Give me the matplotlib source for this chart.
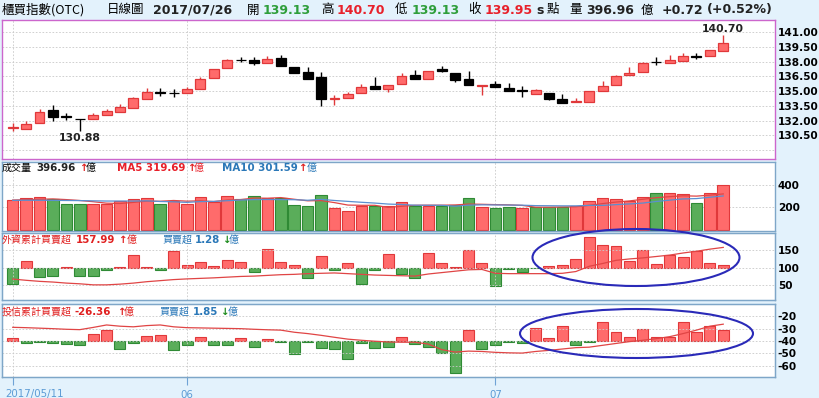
import matplotlib
matplotlib.use("Agg")
import matplotlib.pyplot as plt
from matplotlib.patches import Ellipse
import matplotlib.transforms as mtransforms

# ---- data ----
opens = [131.25, 131.17, 131.78, 133.07, 132.42, 132.18, 132.19, 132.53, 132.87, 133.31,
         134.23, 134.86, 134.80, 134.78, 135.25, 136.31, 137.36, 138.22, 138.18, 137.90,
         138.38, 137.50, 136.95, 136.41, 134.20, 134.30, 134.78, 135.52, 135.25, 135.73,
         136.65, 136.27, 137.22, 136.82, 136.20, 135.57, 135.73, 135.32, 135.07, 134.71,
         134.84, 134.23, 133.86, 133.93, 134.98, 135.59, 136.61, 136.95, 137.97, 137.84,
         138.11, 138.57, 138.59, 139.13]
highs = [131.70, 131.99, 133.21, 133.55, 132.80, 132.20, 132.80, 133.21, 133.69, 134.35,
         135.32, 135.32, 135.25, 135.39, 136.48, 137.30, 138.31, 138.52, 138.52, 138.59,
         138.72, 137.50, 137.43, 136.95, 134.57, 134.91, 135.73, 136.41, 135.60, 136.82,
         137.16, 137.02, 137.56, 136.82, 137.09, 135.62, 136.07, 135.86, 135.52, 135.25,
         134.84, 134.71, 134.30, 135.05, 136.00, 136.60, 137.43, 137.95, 138.52, 138.65,
         138.93, 138.86, 139.20, 140.70]
lows = [130.96, 131.17, 131.78, 131.92, 132.05, 130.88, 132.19, 132.53, 132.87, 133.31,
        134.23, 134.50, 134.37, 134.78, 135.25, 136.31, 137.36, 137.97, 137.63, 137.90,
        137.56, 136.82, 136.27, 133.48, 133.62, 134.30, 134.78, 135.25, 134.88, 135.73,
        136.20, 136.27, 136.95, 135.93, 135.66, 134.64, 135.39, 135.05, 134.44, 134.71,
        134.10, 133.82, 133.86, 133.93, 134.98, 135.59, 136.61, 136.95, 137.70, 137.84,
        138.11, 138.25, 138.59, 139.13]
closes = [131.30, 131.65, 132.87, 132.33, 132.38, 132.14, 132.53, 132.94, 133.35, 134.27,
          134.91, 134.82, 134.76, 135.18, 136.24, 137.29, 138.18, 138.15, 137.90, 138.31,
          137.56, 136.88, 136.27, 134.16, 134.25, 134.71, 135.39, 135.25, 135.59, 136.54,
          136.20, 137.02, 137.02, 136.14, 135.66, 135.60, 135.39, 135.05, 135.03, 135.12,
          134.16, 133.82, 133.96, 135.05, 135.52, 136.54, 136.88, 137.90, 137.93, 138.18,
          138.59, 138.53, 139.20, 139.95]

volume = [265, 286, 292, 274, 227, 227, 232, 227, 259, 274, 283, 229, 259, 229, 292, 247,
          298, 277, 301, 280, 280, 220, 211, 310, 191, 169, 211, 211, 211, 244, 214, 214,
          214, 220, 283, 206, 197, 206, 191, 206, 206, 206, 214, 259, 280, 277, 256, 289,
          330, 325, 316, 242, 330, 396.96]
volume_up = [1, 1, 1, 0, 0, 0, 1, 1, 1, 1, 1, 0, 1, 1, 1, 1, 1, 0, 0, 1, 0, 0, 0, 0, 1, 1,
             1, 0, 1, 1, 0, 1, 0, 0, 0, 1, 0, 0, 1, 0, 0, 0, 1, 1, 1, 1, 1, 1, 0, 1, 1, 0,
             1, 1]
ma5 = [265, 268, 272, 275, 269, 261, 250, 237, 234, 244, 255, 254, 261, 255, 258, 251, 265,
       269, 283, 281, 287, 272, 258, 260, 242, 220, 218, 218, 199, 209, 218, 219, 219, 221,
       229, 227, 224, 222, 217, 201, 201, 203, 205, 218, 233, 247, 257, 272, 286, 295, 303,
       300, 309, 319.69]
ma10 = [262, 263, 263, 262, 261, 260, 258, 256, 256, 256, 258, 252, 249, 244, 251, 253, 259,
        265, 269, 270, 269, 268, 263, 271, 261, 253, 245, 238, 229, 225, 219, 218, 218, 210,
        219, 222, 221, 220, 219, 215, 214, 213, 213, 217, 217, 224, 230, 238, 252, 264, 275,
        278, 290, 301.59]

foreign_daily = [-7.9, 3.2, -4.4, -4.1, 0.2, -3.8, -4.1, -1.3, 0.5, 6.0, 0.3, -1.3, 7.9, 1.3,
                 2.5, 1.0, 3.5, 2.5, -1.9, 9.2, 2.5, 1.3, -5.1, 5.4, -1.3, 2.2, -7.6, -1.3,
                 6.7, -3.2, -4.8, 7.0, 2.2, 0.3, 8.3, 2.2, -8.6, -0.6, -2.2, -0.3, 0.8, 1.1,
                 4.0, 14.8, 11.1, 10.2, 3.2, 8.7, 1.6, 6.3, 5.1, 7.9, 2.2, 1.28]
foreign_cum = [67.6, 64, 61, 59, 56, 54, 51, 51, 53, 56, 60, 63, 66, 68, 69.5, 71, 73, 75, 76,
               78, 80, 81, 83, 84, 85, 83, 81, 79, 78, 77, 76, 82, 86, 90, 94, 95, 84, 83,
               83, 83, 83, 84, 89, 104, 112, 121, 125, 128, 132, 136, 142, 147, 153, 157.99]

trust_daily = [0.5, -0.3, -0.2, -0.3, -0.5, -0.7, 1.2, 1.9, -1.4, -0.4, 0.85, 1.0, -1.6, -0.7,
               0.6, -0.6, -0.7, 0.45, -1.1, 0.35, -0.2, -2.2, -0.1, -1.2, -1.3, -3.0, -0.3,
               -1.2, -1.1, 0.7, -0.5, -1.0, -2.1, -5.5, 1.9, -1.4, -0.7, -0.2, -0.4, 2.2, 0.5,
               2.5, -0.7, -0.15, 3.2, 1.5, 0.6, 2.1, 0.6, 0.7, 3.3, 1.6, 2.6, 1.85]
trust_cum = [-28.9, -29.2, -29.6, -30, -30.5, -30.8, -29, -27, -28, -28.5, -27.5, -27, -28.5,
             -29.2, -29.4, -29.6, -29.8, -30, -30.5, -30.9, -31.2, -32.9, -34, -35.4, -37,
             -38.5, -39.4, -40.2, -40.8, -41, -41, -42.5, -47, -49, -48.2, -48.5, -49.2,
             -49.6, -49.8, -48.5, -47.6, -46.5, -45.4, -45, -43.5, -42, -40.5, -39.4, -38.1,
             -36.5, -34, -31.2, -28, -26.36]

month_ticks = [0, 13, 36]
month_labels = ["2017/05/11", "06", "07"]
price_ticks = [129.0, 130.5, 132.0, 133.5, 135.0, 136.5, 138.0, 139.5, 141.0]
volume_ticks = [200, 400]
foreign_ticks = [50, 100, 150]
trust_ticks = [-20, -30, -40, -50, -60]

# ---- styling ----
BG = "#e3f2fc"
RED_FILL, RED_EDGE = "#ff6b6b", "#e0383a"
GRN_FILL, GRN_EDGE = "#5aad5a", "#2f8a35"
BLUE_TXT = "#2b78b8"
CJK = ["Noto Sans CJK TC", "DejaVu Sans"]
W, H = 820, 398
days = list(range(len(closes)))
XLIM = (-0.8, 56.86)

fig = plt.figure(figsize=(W / 100, H / 100), dpi=100, facecolor=BG)


def box(x0, y0, x1, y1):
    return [x0 / W, 1 - y1 / H, (x1 - x0) / W, (y1 - y0) / H]


def put(x, y, s, **kw):
    kw.setdefault("ha", "left")
    kw.setdefault("va", "center")
    fig.text(x / W, 1 - y / H, s, **kw)


def style_panel(ax, edge, ticks, labels):
    ax.set_xlim(*XLIM)
    ax.set_facecolor("white")
    for s in ax.spines.values():
        s.set_color(edge)
        s.set_linewidth(1.0)
    ax.yaxis.tick_right()
    ax.set_yticks(ticks)
    ax.set_yticklabels(labels)
    ax.tick_params(axis="y", length=0, pad=2, labelsize=7.6)
    for t in ax.get_yticklabels():
        t.set_fontweight("bold")
    ax.grid(axis="y", color="#c9c9c9", linestyle=(0, (2, 2)), linewidth=0.6)
    for m in month_ticks:
        ax.axvline(m, color="#c9c9c9", linestyle=(0, (2, 2)), linewidth=0.6, zorder=0)
    ax.set_xticks([])


# ---- price panel ----
ax = fig.add_axes(box(2, 20, 775, 159))
style_panel(ax, "#cc66cc", price_ticks, [""] + [f"{t:.2f}" for t in price_ticks[1:]])
ax.set_ylim(128.07, 142.26)
fills = [RED_FILL if c > o else "black" for o, c in zip(opens, closes)]
edges = [RED_EDGE if c > o else "black" for o, c in zip(opens, closes)]
ax.vlines(days, lows, highs, colors=edges, linewidth=1.0, zorder=2)
ax.bar(days, [max(abs(c - o), 0.03) for o, c in zip(opens, closes)],
       bottom=[min(o, c) for o, c in zip(opens, closes)], width=0.74,
       color=fills, edgecolor=edges, linewidth=0.9, zorder=3)
lo_i = lows.index(min(lows))
hi_i = highs.index(max(highs))
ax.annotate(f"{lows[lo_i]:.2f}", (lo_i, lows[lo_i]), xytext=(0, -1), textcoords="offset points",
            ha="center", va="top", fontsize=7.8, fontweight="bold", color="#222222")
ax.annotate(f"{highs[hi_i]:.2f}", (hi_i, highs[hi_i]), xytext=(0, 1), textcoords="offset points",
            ha="center", va="bottom", fontsize=7.8, fontweight="bold", color="#222222")

# ---- volume panel ----
axv = fig.add_axes(box(2, 161.7, 775, 231))
style_panel(axv, "#7ea6c8", volume_ticks, [str(t) for t in volume_ticks])
axv.set_ylim(-12, 608)
axv.bar(days, volume, width=0.86,
        color=[RED_FILL if u else GRN_FILL for u in volume_up],
        edgecolor=[RED_EDGE if u else GRN_EDGE for u in volume_up], linewidth=0.8, zorder=2)
axv.plot(days, ma5, color="#e04545", linewidth=0.9, zorder=3)
axv.plot(days, ma10, color="#5a8fd0", linewidth=0.9, zorder=3)


def flow_panel(y0, y1, daily, cum, ticks, line_lim, bar_lim):
    axb = fig.add_axes(box(2, y0, 775, y1))
    axb.set_xlim(*XLIM)
    axb.set_ylim(*bar_lim)
    axb.bar(days, daily, width=0.82,
            color=[RED_FILL if d > 0 else GRN_FILL for d in daily],
            edgecolor=[RED_EDGE if d > 0 else GRN_EDGE for d in daily], linewidth=0.8)
    axb.set_yticks([])
    axb.set_xticks([])
    axl = axb.twinx()
    style_panel(axl, "#7ea6c8", ticks, [str(t) for t in ticks])
    axl.set_ylim(*line_lim)
    axl.plot(days, cum, color="#e04545", linewidth=0.9)
    for s in axb.spines.values():
        s.set_color("#7ea6c8")
    return axb, axl


flow_panel(233.3, 300, foreign_daily, foreign_cum, foreign_ticks, (7.7, 198.3), (-15.5, 16.5))
axtb, axtl = flow_panel(304, 377, trust_daily, trust_cum, trust_ticks, (-69.2, -10.0), (-6.1, 6.27))
axtb.set_xticks(month_ticks)
axtb.set_xticklabels(month_labels)
axtb.tick_params(axis="x", length=6, width=0.8, color="#6fa3d6", labelcolor="#5b9bd5",
                 labelsize=7.4, pad=3)
first = axtb.get_xticklabels()[0]
first.set_ha("left")
first.set_transform(first.get_transform() + mtransforms.ScaledTranslation(-7 / 100, 0, fig.dpi_scale_trans))

# ---- ellipses ----
for cx, cy, ew, eh in [(636, 257.5, 207, 57), (636.5, 333.5, 233, 49)]:
    fig.add_artist(Ellipse((cx / W, 1 - cy / H), ew / W, eh / H, transform=fig.transFigure,
                           fill=False, edgecolor="#2a2ab8", linewidth=1.5, zorder=10))

# ---- header ----
NUM = dict(fontsize=9, fontweight="bold")
put(2, 10, "櫃買指數(OTC)", family=CJK, fontsize=9)
put(107, 10, "日線圖", family=CJK, fontsize=9)
put(153, 10, "2017/07/26", color="#222222", **NUM)
put(247, 10, "開", family=CJK, fontsize=9)
put(263, 10, "139.13", color="#2e9e3a", **NUM)
put(321, 10, "高", family=CJK, fontsize=9)
put(337, 10, "140.70", color="#e8202a", **NUM)
put(395, 10, "低", family=CJK, fontsize=9)
put(412, 10, "139.13", color="#2e9e3a", **NUM)
put(468, 10, "收", family=CJK, fontsize=9)
put(485, 10, "139.95", color="#e8202a", **NUM)
put(536, 10, "s", color="#222222", **NUM)
put(547, 10, "點", family=CJK, fontsize=9)
put(569, 10, "量", family=CJK, fontsize=9)
put(586, 10, "396.96", color="#222222", **NUM)
put(641, 10, "億", family=CJK, fontsize=9)
put(662, 10, "+0.72", color="#222222", **NUM)
put(707, 10, "(+0.52%)", color="#222222", **NUM)

# ---- panel captions ----
SMALL = dict(fontsize=7.4, fontweight="bold")
UP, DOWN = "#e02020", "#1e8c1e"
put(2, 168, "成交量", family=CJK, fontsize=7.2)
put(36, 168, "396.96", color="#222222", **SMALL)
put(79, 168, "↑", color=UP, **SMALL)
put(86, 168, "億", family=CJK, fontsize=7.2)
put(117, 168, "MA5 319.69", color="#e8202a", **SMALL)
put(187, 168, "↑", color=UP, **SMALL)
put(194, 168, "億", family=CJK, fontsize=7.2, color="#e8202a")
put(222, 168, "MA10 301.59", color=BLUE_TXT, **SMALL)
put(298, 168, "↑", color=UP, **SMALL)
put(307, 168, "億", family=CJK, fontsize=7.2, color=BLUE_TXT)

put(2, 240, "外資累計買賣超", family=CJK, fontsize=7.2, color="#e02020")
put(76, 240, "157.99", color="#e02020", **SMALL)
put(118, 240, "↑", color=UP, **SMALL)
put(127, 240, "億", family=CJK, fontsize=7.2, color="#e02020")
put(162, 240, "買賣超", family=CJK, fontsize=7.2, color=BLUE_TXT)
put(195, 240, "1.28", color=BLUE_TXT, **SMALL)
put(222, 240, "↓", color=DOWN, **SMALL)
put(229, 240, "億", family=CJK, fontsize=7.2, color=BLUE_TXT)

put(2, 311.7, "投信累計買賣超", family=CJK, fontsize=7.2, color="#e02020")
put(75, 311.7, "-26.36", color="#e02020", **SMALL)
put(117, 311.7, "↑", color=UP, **SMALL)
put(124, 311.7, "億", family=CJK, fontsize=7.2, color="#e02020")
put(159, 311.7, "買賣超", family=CJK, fontsize=7.2, color=BLUE_TXT)
put(193, 311.7, "1.85", color=BLUE_TXT, **SMALL)
put(220, 311.7, "↓", color=DOWN, **SMALL)
put(228, 311.7, "億", family=CJK, fontsize=7.2, color=BLUE_TXT)

fig.savefig("out.png", dpi=100, facecolor=BG)
